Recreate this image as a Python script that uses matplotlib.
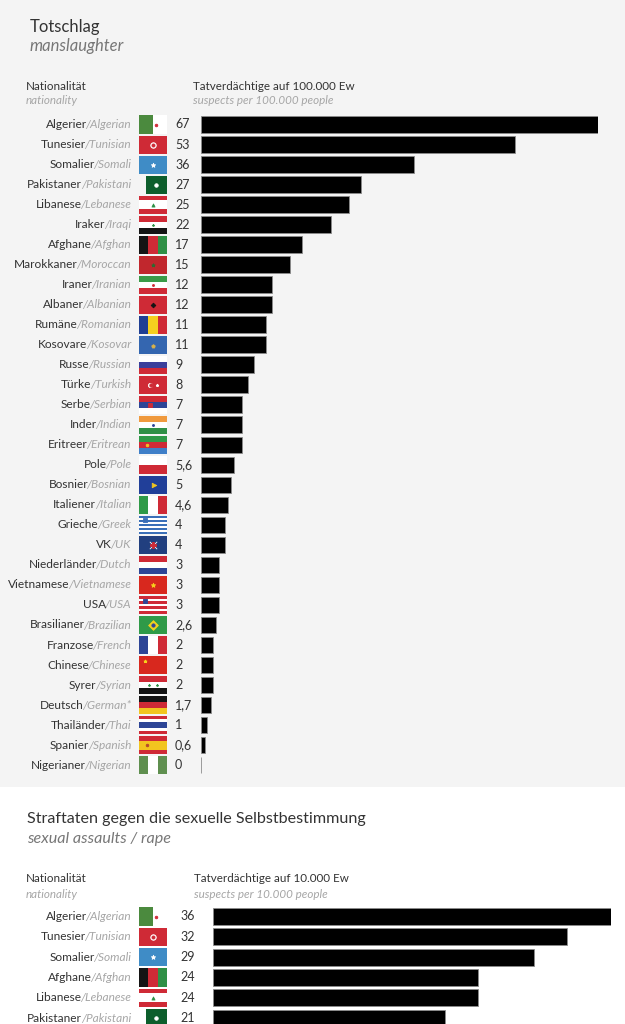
import numpy as np
import matplotlib
matplotlib.use('Agg')
import matplotlib.pyplot as plt
from matplotlib.patches import Rectangle
from matplotlib.transforms import blended_transform_factory

plt.rcParams['font.family'] = ['Lato', 'DejaVu Sans']

W, H = 625, 1024

# --- Totschlag / manslaughter (per 100.000) ---
ms_de = ['Algerier', 'Tunesier', 'Somalier', 'Pakistaner', 'Libanese', 'Iraker',
         'Afghane', 'Marokkaner', 'Iraner', 'Albaner', 'Rumäne', 'Kosovare',
         'Russe', 'Türke', 'Serbe', 'Inder', 'Eritreer', 'Pole', 'Bosnier',
         'Italiener', 'Grieche', 'VK', 'Niederländer', 'Vietnamese', 'USA',
         'Brasilianer', 'Franzose', 'Chinese', 'Syrer', 'Deutsch', 'Thailänder',
         'Spanier', 'Nigerianer']
ms_en = ['Algerian', 'Tunisian', 'Somali', 'Pakistani', 'Lebanese', 'Iraqi',
         'Afghan', 'Moroccan', 'Iranian', 'Albanian', 'Romanian', 'Kosovar',
         'Russian', 'Turkish', 'Serbian', 'Indian', 'Eritrean', 'Pole', 'Bosnian',
         'Italian', 'Greek', 'UK', 'Dutch', 'Vietnamese', 'USA',
         'Brazilian', 'French', 'Chinese', 'Syrian', 'German*', 'Thai',
         'Spanish', 'Nigerian']
ms_vals = [67, 53, 36, 27, 25, 22, 17, 15, 12, 12, 11, 11, 9, 8, 7, 7, 7, 5.6, 5,
           4.6, 4, 4, 3, 3, 3, 2.6, 2, 2, 2, 1.7, 1, 0.6, 0]

# --- Sexualdelikte / sexual assaults (per 10.000) ---
sx_de = ['Algerier', 'Tunesier', 'Somalier', 'Afghane', 'Libanese', 'Pakistaner']
sx_en = ['Algerian', 'Tunisian', 'Somali', 'Afghan', 'Lebanese', 'Pakistani']
sx_vals = [36, 32, 29, 24, 24, 21]

RED, WHITE, BLACK = '#cf2a36', '#ffffff', '#141414'
GREEN, BLUE, GOLD = '#2f9046', '#2d4596', '#f2c51f'

# simplified flags: stripe direction, stripe colours, emblems (marker, colour, size, fx, fy)
FLAGS = {
    'Algerian': ('v', ['#4b8a3e', WHITE], [('o', RED, 10, 0.6, 0.5)]),
    'Tunisian': ('v', [RED], [('o', WHITE, 45, 0.5, 0.5), ('o', RED, 14, 0.5, 0.5)]),
    'Somali': ('v', ['#3f8cc6'], [('*', WHITE, 30, 0.5, 0.5)]),
    'Pakistani': ('v', [None, '#0d5e2c', '#0d5e2c', '#0d5e2c'], [('o', WHITE, 18, 0.6, 0.5)]),
    'Lebanese': ('h', [RED, WHITE, WHITE, RED], [('^', GREEN, 14, 0.5, 0.5)]),
    'Iraqi': ('h', [RED, WHITE, BLACK], [('*', GREEN, 6, 0.5, 0.5)]),
    'Afghan': ('v', [BLACK, RED, GREEN], []),
    'Moroccan': ('v', ['#c1272d'], [('*', '#2d6b30', 18, 0.5, 0.5)]),
    'Iranian': ('h', ['#3a9b48', WHITE, RED], [('o', RED, 6, 0.5, 0.5)]),
    'Albanian': ('v', [RED], [('D', BLACK, 16, 0.5, 0.5)]),
    'Romanian': ('v', ['#1f3f94', '#f5cf1f', RED], []),
    'Kosovar': ('v', ['#3466b0'], [('p', '#d9b24a', 20, 0.5, 0.55)]),
    'Russian': ('h', [WHITE, '#3a3f9b', RED], []),
    'Turkish': ('v', [RED], [('o', WHITE, 26, 0.38, 0.5), ('o', RED, 18, 0.44, 0.5),
                             ('*', WHITE, 10, 0.65, 0.5)]),
    'Serbian': ('h', [RED, BLUE, WHITE], [('s', RED, 14, 0.4, 0.5)]),
    'Indian': ('h', ['#f09a3e', WHITE, GREEN], [('o', BLUE, 6, 0.5, 0.5)]),
    'Eritrean': ('h', ['#2f9a48', RED, '#3f7fc8'], [('o', GOLD, 10, 0.3, 0.5)]),
    'Pole': ('h', [WHITE, RED], []),
    'Bosnian': ('v', ['#213f99'], [('>', GOLD, 30, 0.55, 0.5)]),
    'Italian': ('v', ['#2f9a48', WHITE, RED], []),
    'Greek': ('h', ['#3a6fb8', WHITE] * 4 + ['#3a6fb8'], [('s', '#3a6fb8', 22, 0.2, 0.25)]),
    'UK': ('v', ['#213f7f'], [('x', WHITE, 80, 0.5, 0.5), ('P', RED, 60, 0.5, 0.5)]),
    'Dutch': ('h', [RED, WHITE, BLUE], []),
    'Vietnamese': ('v', ['#d8281e'], [('*', '#f7d21c', 30, 0.5, 0.5)]),
    'USA': ('h', [RED, WHITE] * 3 + [RED], [('s', BLUE, 28, 0.2, 0.28)]),
    'Brazilian': ('v', ['#2f9a48'], [('D', '#f3d21c', 70, 0.5, 0.5), ('o', BLUE, 16, 0.5, 0.5)]),
    'French': ('v', [BLUE, WHITE, RED], []),
    'Chinese': ('v', ['#d8281e'], [('*', '#f7d21c', 14, 0.2, 0.3)]),
    'Syrian': ('h', [RED, WHITE, BLACK], [('*', GREEN, 6, 0.35, 0.5), ('*', GREEN, 6, 0.65, 0.5)]),
    'German*': ('h', [BLACK, RED, GOLD], []),
    'Thai': ('h', [RED, WHITE, BLUE, BLUE, WHITE, RED], []),
    'Spanish': ('h', [RED, GOLD, GOLD, RED], [('o', '#b5482a', 10, 0.3, 0.5)]),
    'Nigerian': ('v', ['#5f8f4f', WHITE, '#5f8f4f'], []),
}

DARK = '#333333'
GREY = '#a6a6a6'
FS = 8.6
HFS = 8.4


def fx(x):
    return x / W


def fy(y):
    return 1 - y / H


def draw_flag(ax, trans, y, spec, x0=139, x1=167, h=0.9):
    kind, colors, emblems = spec
    fw = fx(x1) - fx(x0)
    n = len(colors)
    for i, c in enumerate(colors):
        if c is None:
            continue
        if kind == 'h':
            r = Rectangle((fx(x0), y - h / 2 + i * h / n), fw, h / n)
        else:
            r = Rectangle((fx(x0) + i * fw / n, y - h / 2), fw / n, h)
        r.set_transform(trans)
        r.set_facecolor(c)
        r.set_edgecolor('none')
        r.set_clip_on(False)
        ax.add_patch(r)
    for m, c, s, ex, ey in emblems:
        ax.scatter([fx(x0) + ex * fw], [y - h / 2 + ey * h], s=s * 0.35, marker=m,
                   color=c, transform=trans, clip_on=False, zorder=3, linewidths=0.6)


def bar_block(fig, de, en, vals, y_first, step, x_left, x_right, xmax, value_x):
    n = len(vals)
    top = y_first - step / 2
    bottom = top + n * step
    ax = fig.add_axes([fx(x_left), fy(bottom), fx(x_right) - fx(x_left), (bottom - top) / H])
    ax.set_facecolor('none')
    ax.barh(np.arange(n), vals, height=0.83, color='black', edgecolor='#8c8c8c',
            linewidth=0.6)
    ax.set_xlim(0, xmax)
    ax.set_ylim(n - 0.5, -0.5)
    ax.axis('off')
    trans = blended_transform_factory(fig.transFigure, ax.transData)
    for i in range(n):
        t_en = ax.text(fx(131), i, '/' + en[i], transform=trans, ha='right', va='center',
                       color=GREY, fontsize=FS, style='italic')
        ax.annotate(de[i], xy=(0, 0.5), xycoords=t_en, xytext=(1.0, 0),
                    textcoords='offset points', ha='right', va='center',
                    color=DARK, fontsize=FS)
        draw_flag(ax, trans, i, FLAGS[en[i]])
        ax.text(fx(value_x), i, f'{vals[i]:g}'.replace('.', ','), transform=trans,
                ha='left', va='center', color=DARK, fontsize=FS + 0.4)
    return ax


fig = plt.figure(figsize=(W / 100, H / 100), dpi=100)
fig.patch.set_facecolor('white')
fig.add_artist(Rectangle((0, fy(787)), 1, 787 / H, transform=fig.transFigure,
                         facecolor='#f4f4f4', edgecolor='none', zorder=0))

# section 1
fig.text(fx(30), fy(27), 'Totschlag', fontsize=12, color=DARK, va='center')
fig.text(fx(30), fy(46), 'manslaughter', fontsize=12, color='#777777', style='italic', va='center')
fig.text(fx(26), fy(86), 'Nationalität', fontsize=HFS, color=DARK, va='center')
fig.text(fx(26), fy(100), 'nationality', fontsize=HFS, color=GREY, style='italic', va='center')
fig.text(fx(193), fy(86), 'Tatverdächtige auf 100.000 Ew', fontsize=HFS, color=DARK, va='center')
fig.text(fx(193), fy(101), 'suspects per 100.000 people', fontsize=HFS, color=GREY,
         style='italic', va='center')
bar_block(fig, ms_de, ms_en, ms_vals, 124.5, 20.02, 201, 598, 67, 175)

# section 2
fig.text(fx(27), fy(819), 'Straftaten gegen die sexuelle Selbstbestimmung', fontsize=11.6,
         color=DARK, va='center')
fig.text(fx(27), fy(839), 'sexual assaults / rape', fontsize=11.6, color='#777777',
         style='italic', va='center')
fig.text(fx(26), fy(879), 'Nationalität', fontsize=HFS, color=DARK, va='center')
fig.text(fx(26), fy(894), 'nationality', fontsize=HFS, color=GREY, style='italic', va='center')
fig.text(fx(194), fy(879), 'Tatverdächtige auf 10.000 Ew', fontsize=HFS, color=DARK, va='center')
fig.text(fx(194), fy(895), 'suspects per 10.000 people', fontsize=HFS, color=GREY,
         style='italic', va='center')
bar_block(fig, sx_de, sx_en, sx_vals, 916.5, 20.3, 213, 611, 36, 180)

fig.savefig('out.png', dpi=100, facecolor=fig.get_facecolor())
plt.close(fig)
